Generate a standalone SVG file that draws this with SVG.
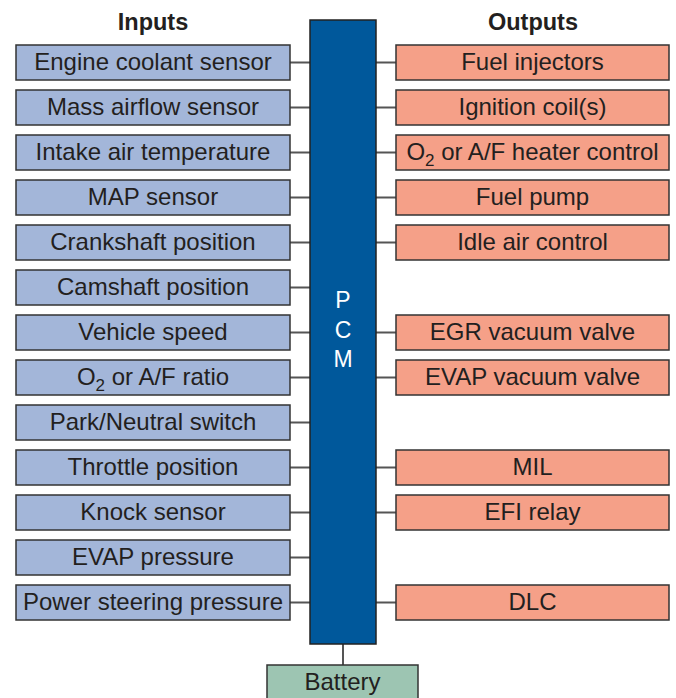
<svg xmlns="http://www.w3.org/2000/svg" width="676" height="698" viewBox="0 0 676 698">
<style>
.in{fill:#a3b6d9;stroke:#333;stroke-width:1.5}
.out{fill:#f5a088;stroke:#333;stroke-width:1.5}
.t{font-family:"Liberation Sans",Arial,sans-serif;font-size:24px;fill:#231f20;text-anchor:middle}
.h{font-family:"Liberation Sans",Arial,sans-serif;font-size:23.5px;font-weight:bold;fill:#231f20;text-anchor:middle}
.p{font-family:"Liberation Sans",Arial,sans-serif;font-size:23px;fill:#fff;text-anchor:middle}
.c{stroke:#555;stroke-width:2;fill:none}
</style>
<rect width="676" height="698" fill="#fff"/>
<text class="h" x="153" y="30">Inputs</text>
<text class="h" x="533" y="30">Outputs</text>
<g id="connectors">
<path class="c" d="M290 62.5H310M290 107.5H310M290 152.5H310M290 197.5H310M290 242.5H310M290 287.5H310M290 332.5H310M290 377.5H310M290 422.5H310M290 467.5H310M290 512.5H310M290 557.5H310M290 602.5H310"/>
<path class="c" d="M376 62.5H396M376 107.5H396M376 152.5H396M376 197.5H396M376 242.5H396M376 332.5H396M376 377.5H396M376 467.5H396M376 512.5H396M376 602.5H396"/>
<path class="c" d="M343 644V665"/>
</g>
<g id="pcm"><rect x="310" y="20" width="66" height="624" fill="#00589b" stroke="#222" stroke-width="1.5"/>
<text class="p" x="343" y="308">P</text><text class="p" x="343" y="338">C</text><text class="p" x="343" y="367">M</text></g>
<g id="battery"><rect x="267" y="665" width="151" height="40" fill="#9dc5b2" stroke="#333" stroke-width="1.5"/><text class="t" x="342.5" y="690">Battery</text></g>
<g id="in1"><rect class="in" x="16" y="45" width="274" height="35"/><text class="t" x="153" y="70">Engine coolant sensor</text></g>
<g id="in2"><rect class="in" x="16" y="90" width="274" height="35"/><text class="t" x="153" y="115">Mass airflow sensor</text></g>
<g id="in3"><rect class="in" x="16" y="135" width="274" height="35"/><text class="t" x="153" y="160">Intake air temperature</text></g>
<g id="in4"><rect class="in" x="16" y="180" width="274" height="35"/><text class="t" x="153" y="205">MAP sensor</text></g>
<g id="in5"><rect class="in" x="16" y="225" width="274" height="35"/><text class="t" x="153" y="250">Crankshaft position</text></g>
<g id="in6"><rect class="in" x="16" y="270" width="274" height="35"/><text class="t" x="153" y="295">Camshaft position</text></g>
<g id="in7"><rect class="in" x="16" y="315" width="274" height="35"/><text class="t" x="153" y="340">Vehicle speed</text></g>
<g id="in8"><rect class="in" x="16" y="360" width="274" height="35"/><text class="t" x="153" y="385">O<tspan font-size="17" dy="6">2</tspan><tspan dy="-6"> or A/F ratio</tspan></text></g>
<g id="in9"><rect class="in" x="16" y="405" width="274" height="35"/><text class="t" x="153" y="430">Park/Neutral switch</text></g>
<g id="in10"><rect class="in" x="16" y="450" width="274" height="35"/><text class="t" x="153" y="475">Throttle position</text></g>
<g id="in11"><rect class="in" x="16" y="495" width="274" height="35"/><text class="t" x="153" y="520">Knock sensor</text></g>
<g id="in12"><rect class="in" x="16" y="540" width="274" height="35"/><text class="t" x="153" y="565">EVAP pressure</text></g>
<g id="in13"><rect class="in" x="16" y="585" width="274" height="35"/><text class="t" x="153" y="610">Power steering pressure</text></g>
<g id="out1"><rect class="out" x="396" y="45" width="273" height="35"/><text class="t" x="532.5" y="70">Fuel injectors</text></g>
<g id="out2"><rect class="out" x="396" y="90" width="273" height="35"/><text class="t" x="532.5" y="115">Ignition coil(s)</text></g>
<g id="out3"><rect class="out" x="396" y="135" width="273" height="35"/><text class="t" x="532.5" y="160">O<tspan font-size="17" dy="6">2</tspan><tspan dy="-6"> or A/F heater control</tspan></text></g>
<g id="out4"><rect class="out" x="396" y="180" width="273" height="35"/><text class="t" x="532.5" y="205">Fuel pump</text></g>
<g id="out5"><rect class="out" x="396" y="225" width="273" height="35"/><text class="t" x="532.5" y="250">Idle air control</text></g>
<g id="out6"><rect class="out" x="396" y="315" width="273" height="35"/><text class="t" x="532.5" y="340">EGR vacuum valve</text></g>
<g id="out7"><rect class="out" x="396" y="360" width="273" height="35"/><text class="t" x="532.5" y="385">EVAP vacuum valve</text></g>
<g id="out8"><rect class="out" x="396" y="450" width="273" height="35"/><text class="t" x="532.5" y="475">MIL</text></g>
<g id="out9"><rect class="out" x="396" y="495" width="273" height="35"/><text class="t" x="532.5" y="520">EFI relay</text></g>
<g id="out10"><rect class="out" x="396" y="585" width="273" height="35"/><text class="t" x="532.5" y="610">DLC</text></g>
</svg>
